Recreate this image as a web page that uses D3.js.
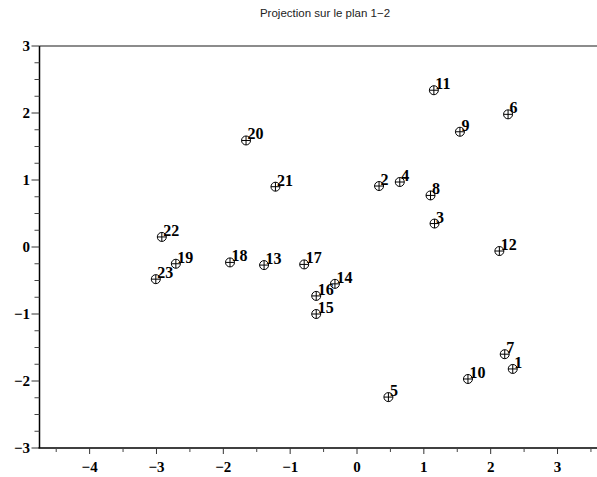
<!DOCTYPE html>
<html>
<head>
    <meta charset="utf-8">
    <title>Projection sur le plan 1-2</title>
<script src="https://unpkg.com/d3@7/dist/d3.min.js"></script>
</head>

<style>
body { margin: 0; background: #fff; }
.num { font: bold 16px "Liberation Serif", "DejaVu Serif", serif; fill: #000; }
.tick-label { font: bold 15px "Liberation Serif", "DejaVu Serif", serif; fill: #000; }
.title { font: 11.5px "Liberation Sans", Arial, sans-serif; fill: #222; }
</style>

<body>
<div id="chart1"></div>

<script type="text/javascript">
// individuals (labels) and their coordinates on axes 1 and 2
let ids = ["1","2","3","4","5","6","7","8","9","10","11","12",
           "13","14","15","16","17","18","19","20","21","22","23"];
let axis1 = [2.33, 0.33, 1.16, 0.64, 0.47, 2.26, 2.21, 1.10, 1.54, 1.66, 1.15, 2.13,
             -1.39, -0.33, -0.61, -0.61, -0.79, -1.90, -2.71, -1.66, -1.22, -2.92, -3.01];
let axis2 = [-1.82, 0.91, 0.35, 0.97, -2.24, 1.98, -1.60, 0.77, 1.72, -1.97, 2.34, -0.06,
             -0.27, -0.55, -1.00, -0.73, -0.26, -0.23, -0.25, 1.59, 0.90, 0.15, -0.48];

let xTicks = [-4, -3, -2, -1, 0, 1, 2, 3];
let xMinor = [-4.5, -3.5, -2.5, -1.5, -0.5, 0.5, 1.5, 2.5, 3.5];
let yTicks = [-3, -2, -1, 0, 1, 2, 3];

let titleText = "Projection sur le plan 1\u22122";

let _width = 597, _height = 477;
let _margins = {top: 46, left: 39.5, right: -14, bottom: 29};

let svg = d3.select("#chart1").append("svg")
    .attr("width", _width)
    .attr("height", _height);

let x = d3.scaleLinear()
    .domain([-4.75, 3.8])
    .range([_margins.left, _width - _margins.right]);

let y = d3.scaleLinear()
    .domain([-3, 3])
    .range([_height - _margins.bottom, _margins.top]);

let fmt = d => (d < 0 ? "\u2212" + Math.abs(d) : String(d));

// minor y ticks every 0.25
let yMinor = d3.range(-3, 3.001, 0.25).filter(v => Math.abs(v - Math.round(v)) > 1e-6);

// title
svg.append("text")
    .attr("class", "title")
    .attr("x", 325)
    .attr("y", 17)
    .attr("text-anchor", "middle")
    .text(titleText);

// top frame line
svg.append("line")
    .attr("x1", x(-4.75)).attr("x2", _width)
    .attr("y1", y(3)).attr("y2", y(3))
    .attr("stroke", "#666").attr("stroke-width", 1.3);

// y axis
let yAxis = svg.append("g").attr("class", "y-axis");
yAxis.append("line")
    .attr("x1", x(-4.75)).attr("x2", x(-4.75))
    .attr("y1", y(-3)).attr("y2", y(3))
    .attr("stroke", "#000").attr("stroke-width", 1.5);
yAxis.selectAll(".major")
    .data(yTicks)
    .join("line")
    .attr("class", "major")
    .attr("x1", x(-4.75) - 8).attr("x2", x(-4.75))
    .attr("y1", d => y(d)).attr("y2", d => y(d))
    .attr("stroke", "#333").attr("stroke-width", 1);
yAxis.selectAll(".minor")
    .data(yMinor)
    .join("line")
    .attr("class", "minor")
    .attr("x1", x(-4.75) - 5).attr("x2", x(-4.75))
    .attr("y1", d => y(d)).attr("y2", d => y(d))
    .attr("stroke", "#444").attr("stroke-width", 1);
yAxis.selectAll("text")
    .data(yTicks)
    .join("text")
    .attr("class", "tick-label")
    .attr("x", 30)
    .attr("y", d => y(d) + 5)
    .attr("text-anchor", "end")
    .text(fmt);

// x axis
let xAxis = svg.append("g").attr("class", "x-axis");
xAxis.append("line")
    .attr("x1", x(-4.75) - 1).attr("x2", _width)
    .attr("y1", y(-3)).attr("y2", y(-3))
    .attr("stroke", "#000").attr("stroke-width", 1.5);
xAxis.selectAll(".major")
    .data(xTicks)
    .join("line")
    .attr("class", "major")
    .attr("x1", d => x(d)).attr("x2", d => x(d))
    .attr("y1", y(-3)).attr("y2", y(-3) + 6)
    .attr("stroke", "#333").attr("stroke-width", 1);
xAxis.selectAll(".minor")
    .data(xMinor)
    .join("line")
    .attr("class", "minor")
    .attr("x1", d => x(d)).attr("x2", d => x(d))
    .attr("y1", y(-3)).attr("y2", y(-3) + 4)
    .attr("stroke", "#444").attr("stroke-width", 1);
xAxis.selectAll("text")
    .data(xTicks)
    .join("text")
    .attr("class", "tick-label")
    .attr("x", d => x(d))
    .attr("y", 472)
    .attr("text-anchor", "middle")
    .text(fmt);

// points: circle with a cross inside
let pts = ids.map((id, i) => ({id: id, a: axis1[i], b: axis2[i]}));
let r = 4.5;

let g = svg.append("g").attr("class", "points");
let pt = g.selectAll("g")
    .data(pts)
    .join("g")
    .attr("transform", d => `translate(${x(d.a)},${y(d.b)})`);

pt.append("circle")
    .attr("r", r)
    .attr("fill", "none")
    .attr("stroke", "#000")
    .attr("stroke-width", 1);
pt.append("path")
    .attr("d", `M${-r},0H${r}M0,${-r}V${r}`)
    .attr("stroke", "#000")
    .attr("stroke-width", 1);
pt.append("text")
    .attr("class", "num")
    .attr("x", 1.5)
    .attr("y", -1)
    .text(d => d.id);
</script>

</body>
</html>
